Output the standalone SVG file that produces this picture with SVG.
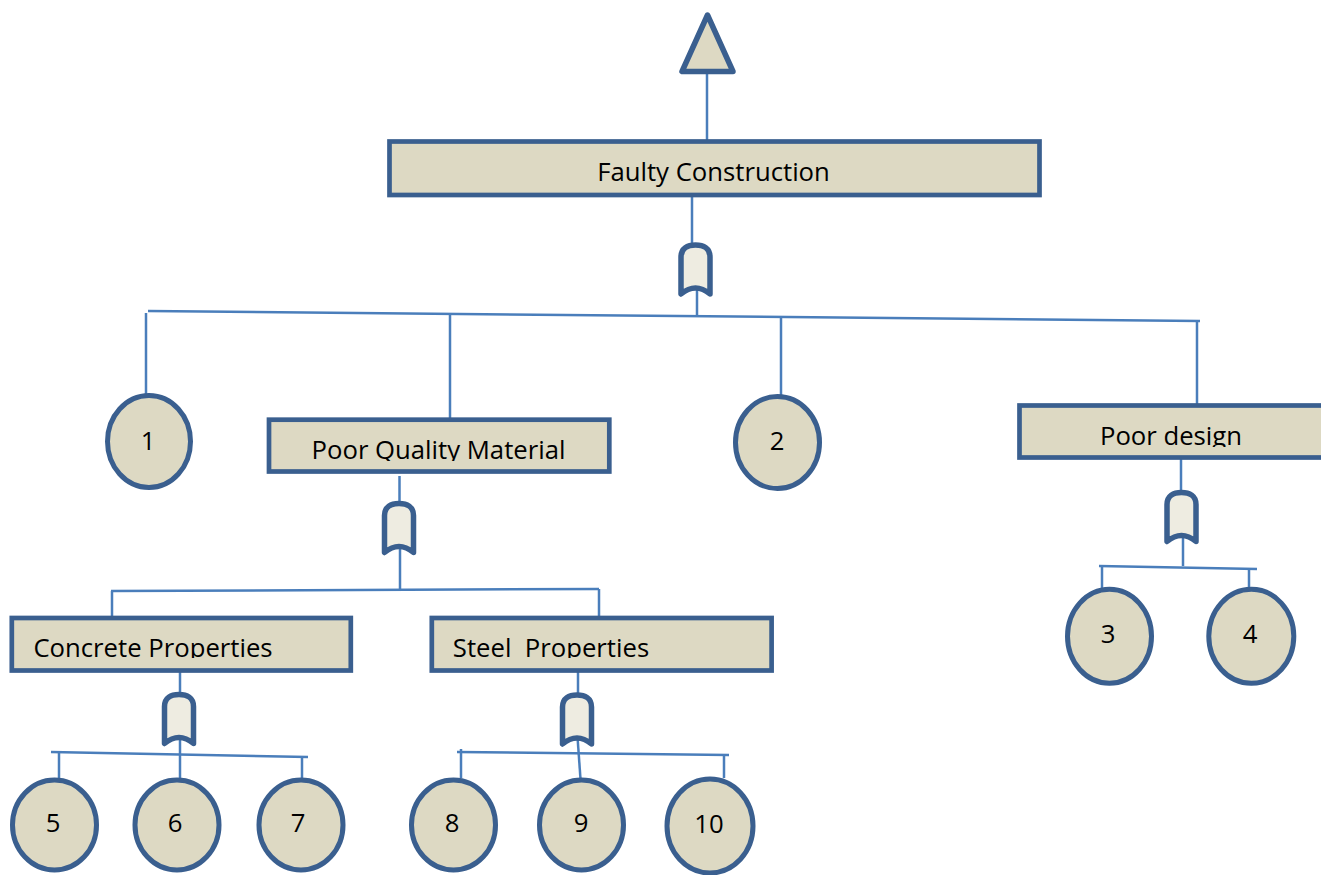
<svg xmlns="http://www.w3.org/2000/svg" width="1321" height="875" viewBox="0 0 1321 875">
  <style>
    .box { fill: #ddd9c3; stroke: #3a5f8f; stroke-width: 4.7; }
    .event { fill: #ddd9c3; stroke: #3a5f8f; stroke-width: 5; }
    .gate { fill: #eeece1; stroke: #3a5f8f; stroke-width: 5.5; stroke-linejoin: round; stroke-linecap: round; }
    .wire { stroke: #4a7ebb; stroke-width: 2.5; fill: none; }
    .lbl { font-family: "Open Sans", "Liberation Sans", sans-serif; font-size: 25.7px; fill: #000; text-anchor: middle; }
  </style>
  <defs>
    <!-- OR gate outline, origin at top centre -->
    <path id="orGate" d="M -14.5,12 C -14.5,3 -8,0 0,0 C 8,0 14.5,3 14.5,12 L 14.5,49 Q 0,37 -14.5,49 Z"/>
    <clipPath id="clipPQM"><rect x="271" y="422" width="336" height="39"/></clipPath>
    <clipPath id="clipCP"><rect x="14" y="620" width="335" height="38"/></clipPath>
    <clipPath id="clipSP"><rect x="434" y="620" width="335" height="38"/></clipPath>
    <clipPath id="clipPD"><rect x="1022" y="408" width="300" height="39"/></clipPath>
  </defs>

  <!-- connectors -->
  <g id="connectors" class="wire">
    <line x1="707" y1="73" x2="707" y2="140"/>
    <line x1="692" y1="197" x2="692" y2="246"/>
    <line x1="697" y1="288" x2="697" y2="316"/>
    <line x1="148" y1="311" x2="1200" y2="321"/>
    <line x1="146" y1="313" x2="146" y2="396"/>
    <line x1="450" y1="314" x2="450" y2="418"/>
    <line x1="781" y1="318" x2="781" y2="397"/>
    <line x1="1197" y1="321" x2="1197" y2="404"/>

    <line x1="399.5" y1="476" x2="399.5" y2="504"/>
    <line x1="400" y1="545" x2="400" y2="590"/>
    <line x1="111" y1="591" x2="599" y2="589"/>
    <line x1="112" y1="591" x2="112" y2="617"/>
    <line x1="599" y1="589" x2="599" y2="617"/>

    <line x1="180" y1="672" x2="180" y2="694"/>
    <line x1="180" y1="736" x2="180" y2="779"/>
    <line x1="51" y1="752" x2="308" y2="757"/>
    <line x1="59" y1="752" x2="59" y2="778"/>
    <line x1="302" y1="757" x2="302" y2="778"/>

    <line x1="578" y1="672" x2="578" y2="694"/>
    <line x1="577.5" y1="737" x2="580.5" y2="779"/>
    <line x1="457" y1="752" x2="729" y2="755"/>
    <line x1="461" y1="749" x2="461" y2="778"/>
    <line x1="724" y1="755" x2="724" y2="778"/>

    <line x1="1181" y1="459" x2="1181" y2="491"/>
    <line x1="1183" y1="532" x2="1183" y2="566"/>
    <line x1="1099" y1="566" x2="1257" y2="569"/>
    <line x1="1102" y1="566" x2="1102" y2="588"/>
    <line x1="1249" y1="569" x2="1249" y2="592"/>
  </g>

  <!-- top event -->
  <g id="top-event">
    <polygon class="gate" style="fill:#ddd9c3" points="707.5,15 682,71.5 733,71.5"/>
  </g>

  <g id="faulty-construction">
    <rect class="box" x="389.5" y="141.5" width="650" height="53.5"/>
    <text class="lbl" x="713.5" y="181">Faulty Construction</text>
  </g>
  <use id="gate-top" class="gate" href="#orGate" transform="translate(695.5,245)"/>

  <g id="event-1">
    <ellipse class="event" cx="149" cy="441.5" rx="41.5" ry="46"/>
    <text class="lbl" x="148" y="450">1</text>
  </g>
  <g id="poor-quality-material">
    <rect class="box" x="269" y="419.7" width="340.3" height="51.8"/>
    <text class="lbl" x="438.5" y="459" clip-path="url(#clipPQM)">Poor Quality Material</text>
  </g>
  <g id="event-2">
    <ellipse class="event" cx="777.5" cy="442.5" rx="42" ry="46"/>
    <text class="lbl" x="777" y="450">2</text>
  </g>
  <g id="poor-design">
    <rect class="box" x="1019.5" y="405.5" width="320" height="52"/>
    <text class="lbl" x="1171" y="445" clip-path="url(#clipPD)">Poor design</text>
  </g>

  <use id="gate-pqm" class="gate" href="#orGate" transform="translate(399,503.5)"/>
  <use id="gate-pd" class="gate" href="#orGate" transform="translate(1181.5,492.5)"/>

  <g id="concrete-properties">
    <rect class="box" x="11.8" y="618" width="339" height="52.5"/>
    <text class="lbl" x="153" y="656.5" clip-path="url(#clipCP)">Concrete Properties</text>
  </g>
  <g id="steel-properties">
    <rect class="box" x="431.8" y="618" width="339.8" height="52.5"/>
    <text class="lbl" x="551" y="656.5" clip-path="url(#clipSP)" xml:space="preserve">Steel  Properties</text>
  </g>

  <use id="gate-cp" class="gate" href="#orGate" transform="translate(179,694.5)"/>
  <use id="gate-sp" class="gate" href="#orGate" transform="translate(577,695)"/>

  <g id="event-3">
    <ellipse class="event" cx="1109.5" cy="636.3" rx="42" ry="47"/>
    <text class="lbl" x="1108" y="643">3</text>
  </g>
  <g id="event-4">
    <ellipse class="event" cx="1251.3" cy="636.3" rx="42.5" ry="47"/>
    <text class="lbl" x="1250" y="643">4</text>
  </g>

  <g id="event-5">
    <ellipse class="event" cx="54.5" cy="825" rx="42" ry="45"/>
    <text class="lbl" x="53" y="832">5</text>
  </g>
  <g id="event-6">
    <ellipse class="event" cx="177" cy="825" rx="42" ry="45"/>
    <text class="lbl" x="175" y="832">6</text>
  </g>
  <g id="event-7">
    <ellipse class="event" cx="301" cy="825" rx="42" ry="45"/>
    <text class="lbl" x="298" y="832">7</text>
  </g>
  <g id="event-8">
    <ellipse class="event" cx="453.5" cy="825" rx="42" ry="45"/>
    <text class="lbl" x="452" y="832">8</text>
  </g>
  <g id="event-9">
    <ellipse class="event" cx="581.5" cy="825" rx="42" ry="45"/>
    <text class="lbl" x="581" y="832">9</text>
  </g>
  <g id="event-10">
    <ellipse class="event" cx="710" cy="826" rx="43" ry="47"/>
    <text class="lbl" x="709" y="833">10</text>
  </g>
</svg>
